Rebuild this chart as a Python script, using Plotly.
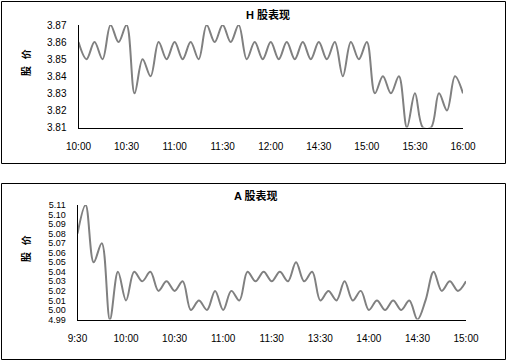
import plotly.graph_objects as go

W, H = 508, 362

def times(start_h, start_m, end_h, end_m):
    out = []
    h, m = start_h, start_m
    while (h, m) <= (end_h, end_m):
        out.append(f"{h}:{m:02d}")
        m += 5
        if m >= 60:
            h += 1
            m -= 60
    return out

# H-share session (category axis)
h_times = times(10, 0, 12, 25) + times(14, 30, 16, 0)
h_prices = [3.86, 3.85, 3.86, 3.85, 3.87, 3.86, 3.87, 3.83, 3.85, 3.84,
            3.86, 3.85, 3.86, 3.85, 3.86, 3.85, 3.87, 3.86, 3.87, 3.86,
            3.87, 3.85, 3.86, 3.85, 3.86, 3.85, 3.86, 3.85, 3.86, 3.85,
            3.86, 3.85, 3.86, 3.84, 3.86, 3.85, 3.86, 3.83, 3.84, 3.83,
            3.84, 3.81, 3.83, 3.81, 3.81, 3.83, 3.82, 3.84, 3.83]
h_ticks = ["10:00", "10:30", "11:00", "11:30", "12:00", "14:30", "15:00", "15:30", "16:00"]
h_yticks = [3.81, 3.82, 3.83, 3.84, 3.85, 3.86, 3.87]

# A-share session
a_times = times(9, 30, 11, 30) + times(13, 5, 15, 0)
a_prices = [5.08, 5.11, 5.05, 5.07, 4.99, 5.04, 5.01, 5.04, 5.03, 5.04,
            5.02, 5.03, 5.02, 5.03, 5.00, 5.01, 5.00, 5.02, 5.00, 5.02,
            5.01, 5.04, 5.03, 5.04, 5.03, 5.04, 5.03, 5.05, 5.03, 5.04,
            5.01, 5.02, 5.01, 5.03, 5.01, 5.02, 5.00, 5.01, 5.00, 5.01,
            5.00, 5.01, 4.99, 5.01, 5.04, 5.02, 5.03, 5.02, 5.03]
a_ticks = ["9:30", "10:00", "10:30", "11:00", "11:30", "13:30", "14:00", "14:30", "15:00"]
a_yticks = [4.99, 5.00, 5.01, 5.02, 5.03, 5.04, 5.05, 5.06, 5.07, 5.08, 5.09, 5.10, 5.11]

FONT = "Liberation Sans, Arial, Noto Sans CJK SC, sans-serif"
CJK = "Noto Sans CJK SC, sans-serif"
LINE = "#808080"

def px(x):
    return x / W

def py(y):
    return 1 - y / H

fig = go.Figure()
fig.add_trace(go.Scatter(x=h_times, y=h_prices, mode="lines",
                         line=dict(color=LINE, width=2, shape="spline", smoothing=1),
                         xaxis="x", yaxis="y", hoverinfo="skip"))
fig.add_trace(go.Scatter(x=a_times, y=a_prices, mode="lines",
                         line=dict(color=LINE, width=2, shape="spline", smoothing=1),
                         xaxis="x2", yaxis="y2", hoverinfo="skip"))

xcommon = dict(type="category", showline=True, linecolor="black", linewidth=1,
               showgrid=False, zeroline=False, ticks="outside", ticklen=9,
               tickcolor="rgba(0,0,0,0)", tickfont=dict(family=FONT, size=10, color="black"),
               tickangle=0, fixedrange=True, automargin=False)
ycommon = dict(showline=True, linecolor="black", linewidth=1, showgrid=False,
               zeroline=False, ticks="outside", ticklen=9, tickcolor="rgba(0,0,0,0)",
               fixedrange=True, automargin=False)

fig.update_layout(
    width=W, height=H,
    margin=dict(l=0, r=0, t=0, b=0, pad=0, autoexpand=False),
    paper_bgcolor="white", plot_bgcolor="white",
    showlegend=False,
    xaxis=dict(xcommon, domain=[px(78.5), px(463)], range=[0, len(h_times) - 1],
               tickmode="array", tickvals=h_ticks, ticktext=h_ticks, anchor="y"),
    yaxis=dict(ycommon, domain=[py(127.5), py(25)], range=[3.81, 3.87],
               tickmode="array", tickvals=h_yticks,
               ticktext=[f"{v:.2f}" for v in h_yticks], anchor="x",
               tickfont=dict(family=FONT, size=10, color="black")),
    xaxis2=dict(xcommon, domain=[px(77.5), px(466)], range=[0, len(a_times) - 1],
                tickmode="array", tickvals=a_ticks, ticktext=a_ticks, anchor="y2"),
    yaxis2=dict(ycommon, domain=[py(319.5), py(205)], range=[4.99, 5.11],
                tickmode="array", tickvals=a_yticks,
                ticktext=[f"{v:.2f}" for v in a_yticks], anchor="x2",
                tickfont=dict(family=FONT, size=9, color="black")),
    shapes=[
        dict(type="rect", xref="paper", yref="paper", x0=px(1.5), x1=px(505.5),
             y0=py(163.5), y1=py(1.5), line=dict(color="black", width=1)),
        dict(type="rect", xref="paper", yref="paper", x0=px(1.5), x1=px(505.5),
             y0=py(359.5), y1=py(183.5), line=dict(color="black", width=1)),
    ],
    annotations=[
        dict(text="<b>H 股表现</b>", x=px(267.5), y=py(14), xref="paper", yref="paper",
             showarrow=False, xanchor="center", yanchor="middle",
             font=dict(family=FONT, size=11, color="black")),
        dict(text="<b>A 股表现</b>", x=px(256), y=py(195), xref="paper", yref="paper",
             showarrow=False, xanchor="center", yanchor="middle",
             font=dict(family=FONT, size=11, color="black")),
        dict(text="<b>股   价</b>", x=px(25), y=py(63), xref="paper", yref="paper",
             showarrow=False, xanchor="center", yanchor="middle", textangle=-90,
             font=dict(family=CJK, size=10, color="black")),
        dict(text="<b>股   价</b>", x=px(25), y=py(249), xref="paper", yref="paper",
             showarrow=False, xanchor="center", yanchor="middle", textangle=-90,
             font=dict(family=CJK, size=10, color="black")),
    ],
)

fig.write_html("out.html")
